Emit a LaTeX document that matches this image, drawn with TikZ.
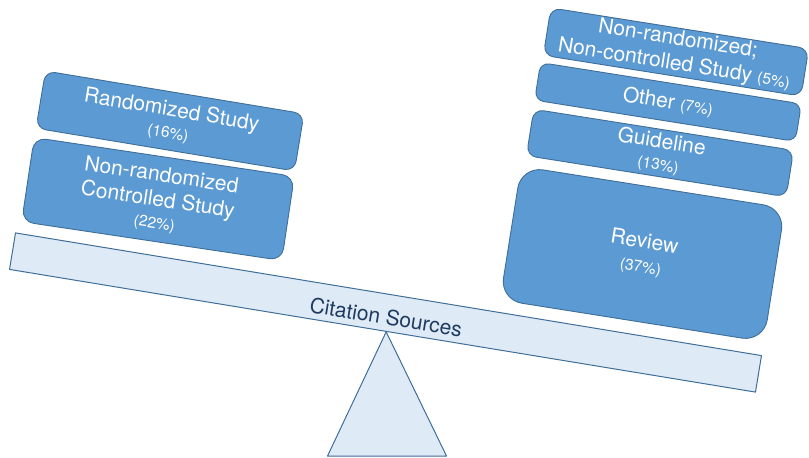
\documentclass[tikz,border=0pt]{standalone}
\usepackage{fontspec}
\setmainfont{TeX Gyre Heros}
\usetikzlibrary{backgrounds,calc}

\definecolor{boxfill}{HTML}{5B9AD3}
\definecolor{boxline}{HTML}{3F6E98}
\definecolor{beamfill}{HTML}{DEEBF7}
\definecolor{beamline}{HTML}{3F6E98}
\definecolor{captext}{HTML}{1E3A5E}

% smaller type for the shares
\newcommand\share[1]{{\fontsize{15.5}{19}\selectfont #1}}

\tikzset{
  weight/.style={draw=boxline, fill=boxfill, line width=0.9pt, text=white,
    align=center, inner sep=0pt, rounded corners=10pt,
    font=\fontsize{21}{25}\selectfont},
  plank/.style={draw=beamline, fill=beamfill, line width=1pt, line join=round},
  caption/.style={text=captext, font=\fontsize{21}{25}\selectfont, inner sep=0pt},
}

\begin{document}
\begin{tikzpicture}[x=1pt,y=-1pt]
\useasboundingbox (0,0) rectangle (809,458);

% the beam and its support
\node[plank, rotate=-9.34, minimum width=756pt, minimum height=37pt] (beam) at (385.5,312.5) {};
\node[caption, rotate=-9.34] (title) at (386,317) {Citation Sources};
\coordinate (apex) at ($(beam.south west)!0.505!(beam.south east)$);
\coordinate (baseL) at (327.5,456);
\coordinate (baseR) at (446.5,456);
\begin{pgfonlayer}{background}
\draw[plank] (apex) -- (baseR) -- (baseL) -- cycle;
\end{pgfonlayer}

% left pan
\node[weight, rotate=-9.4, minimum width=262pt, minimum height=58pt] (rand) at (170,121)
  {Randomized Study\\[-3pt]\share{(16\%)}};
\node[weight, rotate=-8.5, minimum width=263pt, minimum height=85pt, rounded corners=12pt] (nrc) at (158,199)
  {Non-randomized\\Controlled Study\\[-3pt]\share{(22\%)}};

% right pan
\node[weight, rotate=-9, minimum width=261pt, minimum height=48pt] (nrnc) at (676,52)
  {Non-randomized;\\Non-controlled Study \share{(5\%)}};
\node[weight, rotate=-9, minimum width=264pt, minimum height=38pt, rounded corners=9pt] (other) at (668,102)
  {Other \share{(7\%)}};
\node[weight, rotate=-9, minimum width=263pt, minimum height=47pt] (guide) at (660,153)
  {Guideline\\[-3pt]\share{(13\%)}};
\node[weight, rotate=-9, minimum width=267pt, minimum height=135pt, rounded corners=22pt] (review) at (642.5,254)
  {Review\\[-1pt]\share{(37\%)}};
\end{tikzpicture}
\end{document}
